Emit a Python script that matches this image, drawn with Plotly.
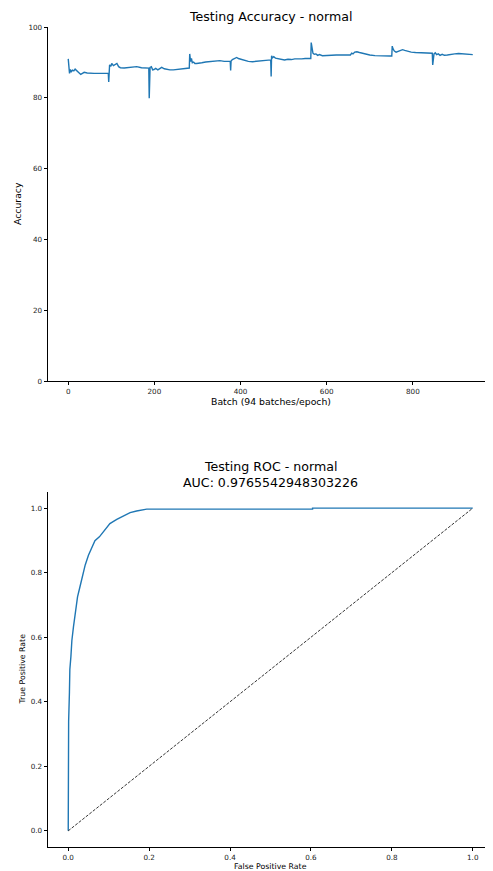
import plotly.graph_objects as go

# ---- Top chart: testing accuracy per batch ----
batch = [0, 1, 3, 5, 7, 10, 13, 16, 20, 24, 29, 33, 37, 44, 51, 60, 74, 85, 93, 94,
         96, 99, 101, 105, 109, 113, 117, 121, 130, 140, 150, 159, 170, 180, 187, 188,
         190, 193, 196, 199, 203, 208, 212, 217, 223, 229, 236, 244, 252, 260, 268, 275,
         281, 282, 284, 286, 288, 291, 294, 298, 304, 310, 319, 329, 340, 352, 362, 372,
         376, 377, 378, 381, 386, 391, 395, 400, 408, 418, 428, 438, 448, 458, 466, 470,
         471, 472, 474, 477, 481, 487, 494, 502, 510, 518, 526, 534, 542, 550, 558, 563,
         564, 566, 568, 571, 575, 579, 583, 590, 598, 610, 622, 634, 646, 655, 658, 661,
         665, 670, 676, 682, 690, 700, 712, 724, 736, 746, 751, 752, 754, 757, 761, 766,
         771, 776, 781, 788, 796, 806, 818, 830, 840, 845, 846, 847, 849, 852, 855, 859,
         863, 868, 873, 880, 888, 897, 906, 915, 924, 932, 939]
accuracy = [91.0, 88.5, 86.9, 88.0, 87.4, 87.8, 87.6, 88.1, 87.6, 87.0, 86.6, 86.9, 87.2, 87.0, 86.9, 86.9, 86.9, 87.0, 86.9, 84.5,
            89.3, 88.9, 89.7, 89.1, 89.4, 89.7, 88.8, 88.5, 88.4, 88.6, 88.7, 88.8, 88.5, 88.4, 88.4, 79.9,
            88.6, 88.8, 87.9, 88.0, 88.3, 87.9, 88.2, 88.6, 88.2, 88.0, 87.9, 87.9, 88.0, 88.0, 88.2, 88.3,
            88.4, 92.4, 90.2, 91.1, 89.9, 90.1, 89.7, 89.7, 89.9, 89.9, 90.1, 90.2, 90.4, 90.5, 90.3, 90.2,
            90.3, 87.7, 90.4, 90.8, 91.2, 91.4, 91.1, 90.9, 90.6, 90.3, 90.2, 90.3, 90.4, 90.6, 90.6, 90.7,
            86.0, 91.9, 91.3, 91.6, 91.2, 91.0, 90.9, 90.7, 90.9, 90.8, 91.0, 90.9, 91.0, 91.1, 91.0, 91.1,
            95.6, 94.0, 92.6, 92.3, 92.4, 92.0, 92.2, 91.9, 92.0, 92.0, 92.1, 92.1, 92.1, 92.1, 92.6, 92.4,
            92.9, 93.0, 92.8, 92.6, 92.3, 92.1, 91.9, 91.8, 91.7, 91.8, 91.8, 94.6, 93.8, 93.2, 92.9, 93.1,
            93.4, 93.6, 93.4, 93.1, 92.9, 92.8, 92.7, 92.6, 92.6, 92.6, 89.3, 91.2, 92.4, 92.7, 92.2, 92.4,
            92.0, 92.3, 92.0, 92.1, 92.3, 92.4, 92.5, 92.4, 92.4, 92.3, 92.2]
acc_xticks = [0, 200, 400, 600, 800]
acc_yticks = [0, 20, 40, 60, 80, 100]

# ---- Bottom chart: ROC curve ----
fpr = [0.0, 0.0, 0.001, 0.003, 0.004, 0.0066, 0.009, 0.013, 0.019, 0.023, 0.028, 0.034,
       0.042, 0.050, 0.058, 0.066, 0.077, 0.091, 0.103, 0.120, 0.136, 0.153, 0.169, 0.194,
       0.604, 0.604, 1.0]
tpr = [0.0, 0.215, 0.34, 0.43, 0.50, 0.54, 0.59, 0.633, 0.694, 0.725, 0.751, 0.782,
       0.824, 0.854, 0.875, 0.899, 0.911, 0.934, 0.952, 0.965, 0.975, 0.986, 0.991, 0.997,
       0.997, 1.0, 1.0]
chance = [0.0, 1.0]
roc_ticks = [0.0, 0.2, 0.4, 0.6, 0.8, 1.0]
auc_value = "0.9765542948303226"

FONT = "DejaVu Sans"
BLUE = "#1f77b4"

fig = go.Figure()
fig.add_trace(go.Scatter(x=batch, y=accuracy, mode="lines",
                         line=dict(color=BLUE, width=1.4), xaxis="x", yaxis="y",
                         showlegend=False, hoverinfo="skip"))
fig.add_trace(go.Scatter(x=fpr, y=tpr, mode="lines",
                         line=dict(color=BLUE, width=1.4), xaxis="x2", yaxis="y2",
                         showlegend=False, hoverinfo="skip"))
fig.add_trace(go.Scatter(x=chance, y=chance, mode="lines",
                         line=dict(color="black", width=0.8, dash="3px,1.5px"),
                         xaxis="x2", yaxis="y2", showlegend=False, hoverinfo="skip"))

axis_common = dict(showline=True, linecolor="black", linewidth=0.8, mirror=False,
                   ticks="outside", ticklen=3.5, tickwidth=0.8, tickcolor="black",
                   showgrid=False, zeroline=False,
                   tickfont=dict(family=FONT, size=7.2, color="#222"))

top_dom = [(847 - 381) / 820, 1.0]
bot_dom = [0.0, (847 - 492) / 820]

n = batch[-1]
# the page body has an 8px margin, so the figure is shrunk and its margins offset by 8px
fig.update_layout(
    width=485, height=863,
    margin=dict(l=40, r=0, t=19, b=24),
    paper_bgcolor="white", plot_bgcolor="white",
    font=dict(family=FONT, color="black"),
    xaxis=dict(domain=[0, 1], anchor="y", range=[-0.05 * n, 1.05 * n],
               tickvals=acc_xticks, **axis_common),
    yaxis=dict(domain=top_dom, anchor="x", range=[0, 100],
               tickvals=acc_yticks, **axis_common),
    xaxis2=dict(domain=[0, 1], anchor="y2", range=[-0.05, 1.05],
                tickvals=roc_ticks, tickformat=".1f", **axis_common),
    yaxis2=dict(domain=bot_dom, anchor="x2", range=[-0.05, 1.05],
                tickvals=roc_ticks, tickformat=".1f", **axis_common),
)

def py(px):
    return (847 - px) / 820

def pxx(px):
    return (px - 48) / 445

annos = [
    dict(text="Testing Accuracy - normal", x=0.5, y=py(17), size=12.6),
    dict(text="Batch (94 batches/epoch)", x=0.5, y=py(402), size=9.3),
    dict(text="Accuracy", x=pxx(18), y=py(204), size=9.3, angle=-90),
    dict(text="Testing ROC - normal", x=0.5, y=py(466.5), size=12.6),
    dict(text="AUC: " + auc_value, x=0.5, y=py(482), size=12.6),
    dict(text="False Positive Rate", x=0.5, y=py(866), size=7.8),
    dict(text="True Positive Rate", x=pxx(22), y=py(669.5), size=7.8, angle=-90),
]
for a in annos:
    fig.add_annotation(text=a["text"], x=a["x"], y=a["y"], xref="paper", yref="paper",
                       xanchor="center", yanchor="middle", showarrow=False,
                       textangle=a.get("angle", 0),
                       font=dict(family=FONT, size=a["size"], color="black"))

fig.write_html("out.html")
